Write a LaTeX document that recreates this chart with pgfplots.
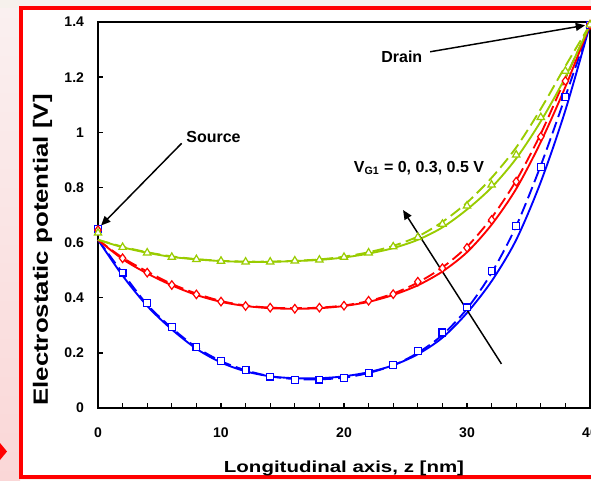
\documentclass[border=0pt]{standalone}
\usepackage{pgfplots}
\pgfplotsset{compat=1.18}
\usepackage{fontspec}
\setmainfont{Liberation Sans}
\usetikzlibrary{arrows.meta}
\definecolor{cblue}{RGB}{0,0,255}
\definecolor{cred}{RGB}{255,0,0}
\definecolor{cgreen}{RGB}{153,204,0}
\definecolor{bgbeige}{RGB}{246,241,236}
\definecolor{pinktop}{RGB}{250,240,240}
\definecolor{pinkbot}{RGB}{250,215,215}
\begin{document}
\begin{tikzpicture}
\path[use as bounding box] (0,0) rectangle (443.25pt,360pt);
\clip (0,0) rectangle (443.25pt,360pt);
\fill[bgbeige] (0,0) rectangle (443.25pt,360pt);
\shade[top color=pinktop, bottom color=pinkbot] (0,0) rectangle (15pt,354pt);
\fill[cred] (0,27.75pt) -- (5.25pt,21.4pt) -- (0,15pt) -- cycle;
\draw[cred, line width=3pt, fill=white] (15.4pt,2.25pt) rectangle (470pt,354pt);
\begin{axis}[
  at={(73.5pt,54pt)}, anchor=south west,
  scale only axis, width=369pt, height=289.5pt,
  xmin=0, xmax=40, ymin=0, ymax=1.4,
  xtick={0,10,20,30,40}, minor x tick num=4,
  ytick={0,0.2,0.4,0.6,0.8,1,1.2,1.4},
  tick align=inside, xtick pos=bottom, ytick pos=left,
  major tick length=4pt, minor tick length=4pt,
  axis line style={line width=1pt},
  every tick/.style={line width=1pt, black},
  ticklabel style={font=\bfseries\fontsize{10.5}{12}\selectfont},
  /pgf/number format/assume math mode=true,
  xticklabel style={yshift=-11pt},
  yticklabel style={xshift=-7pt},
  clip=false,
]
% blue
\addplot[cblue, line width=1.4pt, smooth] coordinates {(0,0.61)(2,0.48)(4,0.37)(6,0.285)(8,0.215)(10,0.165)(12,0.133)(14,0.115)(16,0.108)(18,0.108)(20,0.115)(22,0.13)(24,0.155)(26,0.195)(28,0.255)(30,0.345)(32,0.46)(34,0.61)(36,0.82)(38,1.08)(40,1.39)};
\addplot[cblue, line width=1.4pt, smooth, dash pattern=on 9pt off 4pt] coordinates {(0,0.61)(2,0.49)(4,0.375)(6,0.29)(8,0.22)(10,0.17)(12,0.137)(14,0.115)(16,0.105)(18,0.104)(20,0.11)(22,0.127)(24,0.155)(26,0.2)(28,0.265)(30,0.36)(32,0.49)(34,0.66)(36,0.88)(38,1.13)(40,1.39)};
% red
\addplot[cred, line width=1.4pt, smooth] coordinates {(0,0.61)(2,0.54)(4,0.488)(6,0.445)(8,0.41)(10,0.385)(12,0.37)(14,0.362)(16,0.36)(18,0.362)(20,0.37)(22,0.385)(24,0.41)(26,0.445)(28,0.495)(30,0.565)(32,0.665)(34,0.795)(36,0.965)(38,1.165)(40,1.39)};
\addplot[cred, line width=1.4pt, smooth, dash pattern=on 9pt off 4pt] coordinates {(0,0.61)(2,0.545)(4,0.495)(6,0.45)(8,0.415)(10,0.388)(12,0.372)(14,0.364)(16,0.362)(18,0.364)(20,0.372)(22,0.388)(24,0.415)(26,0.455)(28,0.51)(30,0.585)(32,0.69)(34,0.825)(36,0.995)(38,1.195)(40,1.39)};
% green
\addplot[cgreen, line width=1.4pt, smooth] coordinates {(0,0.61)(2,0.583)(4,0.563)(6,0.548)(8,0.539)(10,0.533)(12,0.53)(14,0.53)(16,0.533)(18,0.537)(20,0.546)(22,0.56)(24,0.58)(26,0.61)(28,0.655)(30,0.72)(32,0.80)(34,0.905)(36,1.04)(38,1.20)(40,1.39)};
\addplot[cgreen, line width=1.4pt, smooth, dash pattern=on 9pt off 4pt] coordinates {(0,0.61)(2,0.585)(4,0.565)(6,0.55)(8,0.54)(10,0.534)(12,0.531)(14,0.531)(16,0.534)(18,0.539)(20,0.549)(22,0.565)(24,0.588)(26,0.622)(28,0.675)(30,0.745)(32,0.835)(34,0.945)(36,1.085)(38,1.24)(40,1.39)};
% markers
\addplot[only marks, mark=square*, mark size=2.6pt, mark options={draw=cblue, fill=white, line width=0.9pt}] coordinates {(0,0.65)(2,0.491)(4,0.382)(6,0.295)(8,0.222)(10,0.170)(12,0.138)(14,0.114)(16,0.102)(18,0.103)(20,0.108)(22,0.128)(24,0.156)(26,0.208)(28,0.274)(30,0.365)(32,0.497)(34,0.66)(36,0.875)(38,1.129)(40,1.39)};
\addplot[only marks, mark=diamond*, mark size=3.2pt, mark options={draw=cred, fill=white, line width=0.9pt}] coordinates {(0,0.645)(2,0.543)(4,0.491)(6,0.446)(8,0.412)(10,0.386)(12,0.370)(14,0.364)(16,0.360)(18,0.364)(20,0.371)(22,0.389)(24,0.413)(26,0.458)(28,0.507)(30,0.581)(32,0.682)(34,0.821)(36,0.984)(38,1.186)(40,1.39)};
\addplot[only marks, mark=triangle*, mark size=3.2pt, mark options={draw=cgreen, fill=white, line width=0.9pt}] coordinates {(0,0.635)(2,0.583)(4,0.563)(6,0.547)(8,0.539)(10,0.533)(12,0.530)(14,0.530)(16,0.534)(18,0.537)(20,0.547)(22,0.563)(24,0.585)(26,0.619)(28,0.667)(30,0.733)(32,0.809)(34,0.918)(36,1.054)(38,1.222)(40,1.39)};
% annotations
\node[font=\bfseries\fontsize{12}{14}\selectfont] at (axis cs:9.39,0.984) {Source};
\draw[line width=1.1pt, -{Triangle[length=7pt,width=6pt]}] (axis cs:6.8,0.96) -- (axis cs:0.25,0.662);
\node[font=\bfseries\fontsize{12}{14}\selectfont] at (axis cs:24.7,1.274) {Drain};
\draw[line width=1.1pt, -{Triangle[length=7pt,width=6pt]}] (axis cs:27.0,1.292) -- (axis cs:39.6,1.388);
\node[font=\bfseries\fontsize{12}{14}\selectfont] at (axis cs:26.1,0.87) {V\textsubscript{G1} = 0, 0.3, 0.5 V};
\draw[line width=1.1pt, -{Triangle[length=7pt,width=6pt]}] (axis cs:32.8,0.16) -- (axis cs:24.8,0.718);
\end{axis}
\node[rotate=90, font=\bfseries\fontsize{15.5}{18}\selectfont] at (31.9pt,172.5pt) {\scalebox{1.25}[1]{Electrostatic potential [V]}};
\node[font=\bfseries\fontsize{12}{14}\selectfont] at (258pt,9pt) {\scalebox{1.28}[1]{Longitudinal axis, z [nm]}};
\end{tikzpicture}
\end{document}
